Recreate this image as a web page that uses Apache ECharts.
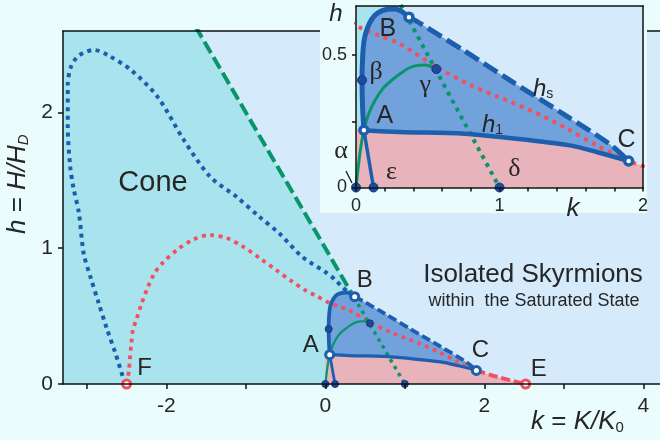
<!DOCTYPE html>
<html><head><meta charset="utf-8">
<script src="https://cdn.jsdelivr.net/npm/echarts@6/dist/echarts.min.js"></script>
<style>html,body{margin:0;padding:0;background:#ebfcfc;}#c{width:660px;height:440px;}</style>
</head><body><div id="c"></div>
<script>
// ---------- data ----------
const kTicksMain = [-3, -2, -1, 0, 1, 2, 3, 4];
const kLabelsMain = [-2, 0, 2, 4];
const hTicksMain = [0, 1, 2];
const kTicksInset = [0, 0.2, 0.4, 0.6, 0.8, 1, 1.2, 1.4, 1.6, 1.8, 2];
const kLabelsInset = [0, 1, 2];
const hTicksInset = [0, 0.25, 0.5];
const hLabelsInset = [0, 0.5];

const coneRegion = [[-3.8, 0], [-3.8, 4.8], [1, 0]];
const coneDashed = [[-1.75, 2.75], [0.36, 0.64]];
const coneDotted = [[0.36, 0.64], [1, 0]];

const blueDotted = [[-2.52, 0.0], [-2.64, 0.226], [-2.75, 0.41], [-2.85, 0.594], [-2.95, 0.78], [-3.04, 0.962],
  [-3.1, 1.26], [-3.17, 1.45], [-3.21, 1.605], [-3.24, 1.9], [-3.24, 2.2], [-3.2, 2.336], [-3.1, 2.42],
  [-2.91, 2.46], [-2.73, 2.42], [-2.44, 2.31], [-2.11, 2.115], [-1.78, 1.797], [-1.45, 1.527], [-1.12, 1.38],
  [-0.83, 1.232], [-0.58, 1.11], [-0.29, 0.937], [0, 0.825], [0.12, 0.77], [0.22, 0.71], [0.369, 0.643]];

const redDotted = [[-2.5, 0], [-2.47, 0.1], [-2.46, 0.18], [-2.44, 0.3], [-2.42, 0.4], [-2.38, 0.47],
  [-2.31, 0.594], [-2.23, 0.717], [-2.15, 0.815], [-2.05, 0.89], [-1.86, 0.99], [-1.66, 1.065], [-1.45, 1.097],
  [-1.24, 1.075], [-1.03, 1.01], [-0.82, 0.925], [-0.62, 0.84], [-0.43, 0.76], [-0.25, 0.69], [-0.1, 0.645],
  [0.04, 0.6], [0.18, 0.57], [0.3, 0.544], [0.56, 0.455], [0.8, 0.386], [0.99, 0.342], [1.22, 0.29],
  [1.45, 0.228], [1.68, 0.158], [1.9, 0.1]];
const redTail = [[1.9, 0.1], [2.05, 0.072], [2.2, 0.047], [2.36, 0.022], [2.52, 0]];

const pocketTop = [[0.055, 0.216], [0.046, 0.3], [0.042, 0.405], [0.047, 0.5], [0.058, 0.56], [0.078, 0.6],
  [0.11, 0.635], [0.15, 0.658], [0.21, 0.672], [0.27, 0.674], [0.32, 0.664], [0.369, 0.643]];
const hsCurve = [[0.369, 0.643], [0.455, 0.617], [0.754, 0.516], [1.077, 0.403], [1.446, 0.277], [1.77, 0.163], [1.9, 0.1]];
const h1Curve = [[0.055, 0.216], [0.3, 0.209], [0.754, 0.203], [1.216, 0.178], [1.5, 0.158], [1.677, 0.134], [1.9, 0.1]];
const greenSolid = [[0, 0], [0.03, 0.14], [0.055, 0.216], [0.09, 0.28], [0.134, 0.33], [0.19, 0.375],
  [0.25, 0.405], [0.31, 0.43], [0.365, 0.45], [0.42, 0.46], [0.48, 0.462], [0.56, 0.447]];
const epsLine = [[0.055, 0.216], [0.122, 0]];

const filledPoints = [{name: 'α', value: [0, 0]}, {name: 'ε', value: [0.122, 0]}, {name: 'δ', value: [1, 0]},
  {name: 'β', value: [0.042, 0.405]}, {name: 'γ', value: [0.56, 0.447]}];
const openPoints = [{name: 'A', value: [0.055, 0.216]}, {name: 'B', value: [0.369, 0.643]}, {name: 'C', value: [1.9, 0.1]}];
const redPoints = [{name: 'E', value: [2.52, 0]}, {name: 'F', value: [-2.5, 0]}];

// ---------- styling ----------
const COL = {
  sat: '#d5eafa', cone: '#a9e4ee', pocket: '#72a2dc', pink: '#e8b3bb',
  blue: '#1d5fae', dotBlue: '#1b5eb0', red: '#f2505f', green: '#08956a',
  mark: '#1c4c9c', markB: '#14397e', text: '#262626'
};
const SANS = 'Liberation Sans, Arial, sans-serif';
const SERIF = 'Liberation Serif, Times New Roman, serif';

const mainOffsets = {A: [-19, -9], B: [10, -16], C: [4, -20], E: [13, -15], F: [18, -16]};
const insetOffsets = {A: [21, -14], B: [-21, 12], C: [-2, -21], 'α': [-15, -36], 'ε': [18, -15], 'δ': [15, -18], 'β': [14, -8], 'γ': [-11, 16]};

function poly(pts, color, xi, yi, z) {
  return {
    type: 'custom', xAxisIndex: xi, yAxisIndex: yi, clip: true, z: z, silent: true,
    data: pts, encode: {x: 0, y: 1},
    renderItem: function (params, api) {
      if (params.dataIndex !== 0) return null;
      return {type: 'polygon', shape: {points: pts.map(function (p) { return api.coord(p); })}, style: {fill: color}};
    }
  };
}
function line(data, xi, yi, color, width, type, z, smooth) {
  return {
    type: 'line', xAxisIndex: xi, yAxisIndex: yi, data: data, showSymbol: false, symbol: 'none',
    smooth: smooth || false, clip: true, silent: true, z: z,
    lineStyle: {color: color, width: width, type: type, cap: 'butt', join: 'round'}
  };
}
function scatter(points, xi, yi, size, fill, border, bw, z, offsets, fontSize) {
  return {
    type: 'scatter', xAxisIndex: xi, yAxisIndex: yi, clip: false, silent: true, z: z,
    symbolSize: size,
    itemStyle: {color: fill, borderColor: border, borderWidth: bw, opacity: 1},
    data: points.map(function (p) {
      const off = offsets && offsets[p.name];
      const isGreek = /[α-ω]/.test(p.name);
      return {
        name: p.name, value: p.value,
        label: {
          show: !!off, formatter: '{b}', position: 'inside', offset: off || [0, 0],
          color: COL.text, fontFamily: isGreek ? SERIF : SANS, fontSize: isGreek ? fontSize + 2 : fontSize
        }
      };
    })
  };
}

const series = [];
// main grid: xAxis 0, yAxis 0
series.push(poly(coneRegion, COL.cone, 0, 0, 1));
series.push(poly([[0, 0], [0, 0.22]].concat(h1Curve, redTail.slice(1)), COL.pink, 0, 0, 1));
series.push(poly(pocketTop.concat(hsCurve.slice(1), h1Curve.slice(0, -1).reverse()), COL.pocket, 0, 0, 1));
series.push(line(blueDotted, 0, 0, COL.dotBlue, 4, [4, 4.5], 3, 0.3));
series.push(line(redDotted, 0, 0, COL.red, 3.8, [3.8, 4.6], 3, 0.3));
series.push(line(redTail, 0, 0, COL.red, 3.8, [9, 4], 3, 0.3));
series.push(line(coneDashed, 0, 0, COL.green, 4, [13, 5], 3));
series.push(line(coneDotted, 0, 0, COL.green, 3.5, [3.5, 4.5], 3));
series.push(line(greenSolid, 0, 0, COL.green, 2.2, 'solid', 4, 0.3));
series.push(line(pocketTop, 0, 0, COL.blue, 3.8, 'solid', 5, 0.3));
series.push(line(hsCurve, 0, 0, COL.blue, 3.8, [9, 4], 5, 0.3));
series.push(line(h1Curve, 0, 0, COL.blue, 3.2, 'solid', 5, 0.3));
series.push(line(epsLine, 0, 0, COL.blue, 2.8, 'solid', 5));
series.push(scatter(filledPoints, 0, 0, 7, COL.mark, COL.markB, 1, 6, null, 23));
series.push(scatter(openPoints, 0, 0, 8, '#fff', COL.blue, 3, 7, mainOffsets, 24));
series.push(scatter(redPoints, 0, 0, 8, '#fff', COL.red, 3, 7, mainOffsets, 24));

// inset grid: xAxis 2, yAxis 1
series.push(poly(coneRegion, COL.cone, 2, 1, 61));
series.push(poly([[0, 0], [0, 0.22]].concat(h1Curve, redTail.slice(1)), COL.pink, 2, 1, 61));
series.push(poly(pocketTop.concat(hsCurve.slice(1), h1Curve.slice(0, -1).reverse()), COL.pocket, 2, 1, 61));
series.push(line(redDotted.concat(redTail.slice(1)), 2, 1, COL.red, 4, [4, 5], 63, 0.3));
series.push(line(coneDashed.concat(coneDotted.slice(1)), 2, 1, COL.green, 4, [4, 5], 63));
series.push(line(greenSolid, 2, 1, COL.green, 3, 'solid', 64, 0.3));
series.push(line(pocketTop, 2, 1, COL.blue, 5, 'solid', 65, 0.3));
series.push(line(hsCurve, 2, 1, COL.blue, 5, [16, 6], 65, 0.3));
series.push(line(h1Curve, 2, 1, COL.blue, 4.5, 'solid', 65, 0.3));
series.push(line(epsLine, 2, 1, COL.blue, 3.5, 'solid', 65));
series.push(scatter(filledPoints, 2, 1, 9, COL.mark, COL.markB, 1, 66, insetOffsets, 24));
series.push(scatter(openPoints, 2, 1, 8, '#fff', COL.blue, 3.5, 67, insetOffsets, 25));

function valAxis(grid, pos, min, max, ticks, labels, z, fs, margin, tickLen, showTicks) {
  return {
    type: 'value', gridIndex: grid, position: pos, min: min, max: max, z: z,
    splitLine: {show: false},
    axisLine: {show: true, onZero: false, lineStyle: {color: '#111', width: 1.5}},
    axisTick: {show: showTicks, length: tickLen, lineStyle: {color: '#111', width: 1.5}, customValues: ticks},
    axisLabel: {show: labels.length > 0, customValues: labels, color: COL.text, fontSize: fs, fontFamily: SANS, margin: margin,
      showMinLabel: true, showMaxLabel: true, hideOverlap: false}
  };
}

const option = {
  animation: false,
  backgroundColor: '#ebfcfc',
  grid: [
    {left: 63, top: 31, right: -10, bottom: 56, show: true, backgroundColor: COL.sat, borderWidth: 0, z: 0},
    {left: 356, top: 6, right: 17, bottom: 252.5, show: true, backgroundColor: COL.sat, borderWidth: 0, z: 60}
  ],
  xAxis: [
    valAxis(0, 'bottom', -3.3, 4.21, kTicksMain, kLabelsMain, 20, 21, 12, 5, true),
    valAxis(0, 'top', -3.3, 4.21, [], [], 20, 21, 8, 5, false),
    valAxis(1, 'bottom', 0, 2, kTicksInset, kLabelsInset, 90, 18, 10, 4, true),
    valAxis(1, 'top', 0, 2, [], [], 90, 18, 8, 4, false)
  ],
  yAxis: [
    valAxis(0, 'left', 0, 2.6, hTicksMain, hTicksMain, 20, 21, 10, 5, true),
    valAxis(1, 'left', 0, 0.685, hTicksInset, hLabelsInset, 90, 18, 9, 4, true),
    valAxis(1, 'right', 0, 0.685, [], [], 90, 18, 8, 4, false)
  ],
  graphic: [
    {type: 'rect', shape: {x: 320, y: 0, width: 327, height: 213}, style: {fill: '#ebfcfc'}, z: 50},
    {type: 'text', x: 153, y: 183, z: 10, style: {text: 'Cone', font: '29px ' + SANS, fill: COL.text, align: 'center', verticalAlign: 'middle'}},
    {type: 'text', x: 533, y: 275, z: 10, style: {text: 'Isolated Skyrmions', font: '26px ' + SANS, fill: COL.text, align: 'center', verticalAlign: 'middle'}},
    {type: 'text', x: 534, y: 301, z: 10, style: {text: 'within  the Saturated State', font: '18px ' + SANS, fill: COL.text, align: 'center', verticalAlign: 'middle'}},
    {type: 'text', x: 531, y: 422, z: 10, style: {
      text: '{i|k}{n| = }{i|K/K}{s|0}', align: 'left', verticalAlign: 'middle', fill: COL.text,
      rich: {i: {font: 'italic 26px ' + SANS, fill: COL.text}, n: {font: '26px ' + SANS, fill: COL.text}, s: {font: '15px ' + SANS, fill: COL.text, padding: [12, 0, 0, 0]}}
    }},
    {type: 'text', x: 18, y: 234, rotation: Math.PI / 2, z: 10, style: {
      text: '{i|h}{n| = }{i|H/H}{s|D}', align: 'left', verticalAlign: 'middle', fill: COL.text,
      rich: {i: {font: 'italic 26px ' + SANS, fill: COL.text}, n: {font: '26px ' + SANS, fill: COL.text}, s: {font: 'italic 15px ' + SANS, fill: COL.text, padding: [12, 0, 0, 0]}}
    }},
    {type: 'text', x: 336, y: 14, z: 100, style: {text: 'h', font: 'italic 24px ' + SANS, fill: COL.text, align: 'center', verticalAlign: 'middle'}},
    {type: 'text', x: 573, y: 209, z: 100, style: {text: 'k', font: 'italic 26px ' + SANS, fill: COL.text, align: 'center', verticalAlign: 'middle'}},
    {type: 'text', x: 533, y: 89, z: 100, style: {
      text: '{i|h}{s|s}', align: 'left', verticalAlign: 'middle',
      rich: {i: {font: 'italic 24px ' + SANS, fill: COL.text}, s: {font: '14px ' + SANS, fill: COL.text, padding: [10, 0, 0, 0]}}
    }},
    {type: 'text', x: 482, y: 125, z: 100, style: {
      text: '{i|h}{s|1}', align: 'left', verticalAlign: 'middle',
      rich: {i: {font: 'italic 24px ' + SANS, fill: COL.text}, s: {font: '14px ' + SANS, fill: COL.text, padding: [10, 0, 0, 0]}}
    }},
    {type: 'line', z: 100, shape: {x1: 346, y1: 171, x2: 352, y2: 183}, style: {stroke: '#111', lineWidth: 1.3}}
  ],
  series: series
};
const chart = echarts.init(document.getElementById('c'), null, {renderer: 'canvas'});
chart.setOption(option);
</script>
</body></html>
